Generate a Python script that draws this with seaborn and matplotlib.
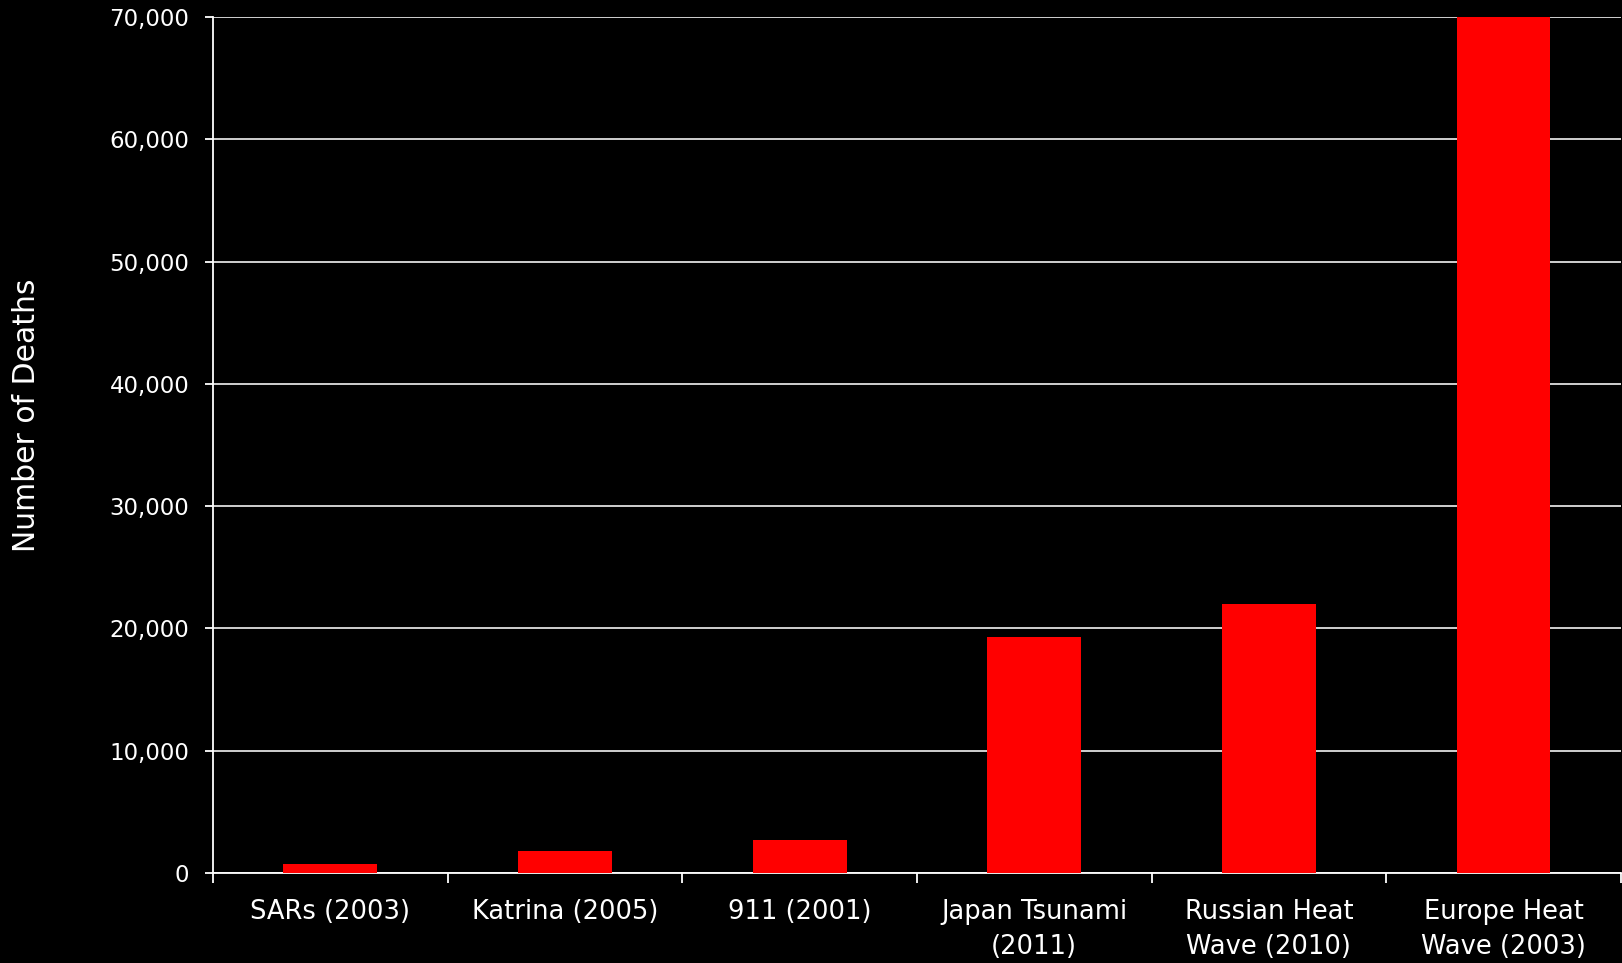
import numpy as np
import pandas as pd
import matplotlib
matplotlib.use("Agg")
import matplotlib.pyplot as plt
import seaborn as sns
from matplotlib.ticker import FuncFormatter, FixedLocator

events = ["SARs (2003)", "Katrina (2005)", "911 (2001)",
          "Japan Tsunami\n(2011)", "Russian Heat\nWave (2010)", "Europe Heat\nWave (2003)"]
deaths = [720, 1800, 2700, 19300, 22000, 70000]
y_ticks = [0, 10000, 20000, 30000, 40000, 50000, 60000, 70000]

df = pd.DataFrame({"event": events, "deaths": deaths})

sns.set_theme(style="dark")
plt.rcParams["font.family"] = ["DejaVu Sans"]

fg = "white"
fig = plt.figure(figsize=(16.22, 9.63), dpi=100, facecolor="black")
ax = fig.add_axes([0.1313, 0.0935, 0.8680, 0.8888])
ax.set_facecolor("black")

sns.barplot(data=df, x="event", y="deaths", color="#FF0000", width=0.4,
            saturation=1, ax=ax, zorder=3, edgecolor="none", linewidth=0)

ax.set_ylim(0, 70000)
ax.set_xlim(-0.5, len(events) - 0.5)
ax.set_yticks(y_ticks)
ax.yaxis.set_major_formatter(FuncFormatter(lambda v, p: f"{int(v):,}"))
ax.grid(axis="y", color="#E0E0E0", linewidth=1.3, zorder=0)
ax.grid(axis="x", visible=False)

# category boundaries carry the tick marks; labels sit between them
ax.xaxis.set_major_locator(FixedLocator(np.arange(-0.5, len(events), 1.0)))
ax.xaxis.set_minor_locator(FixedLocator(np.arange(len(events))))
ax.set_xticklabels([""] * (len(events) + 1))
ax.set_xticklabels(events, minor=True)
ax.tick_params(axis="x", which="major", length=7, width=1.3, color=fg, direction="out", bottom=True)
ax.tick_params(axis="x", which="minor", length=0, pad=18.5, labelsize=18.5, labelcolor=fg)
for lbl in ax.get_xticklabels(minor=True):
    lbl.set_linespacing(1.45)
ax.tick_params(axis="y", length=6, width=1.3, color=fg, direction="out", left=True,
               pad=11, labelsize=16.5, labelcolor=fg)

for side in ["top", "right"]:
    ax.spines[side].set_visible(False)
for side in ["left", "bottom"]:
    ax.spines[side].set_visible(True)
    ax.spines[side].set_color(fg)
    ax.spines[side].set_linewidth(1.3)

ax.set_xlabel("")
ax.set_ylabel("Number of Deaths", color=fg, fontsize=21.5, labelpad=0)
ax.yaxis.set_label_coords(-0.122, 0.535)

fig.savefig("out.png", dpi=100, facecolor="black")
